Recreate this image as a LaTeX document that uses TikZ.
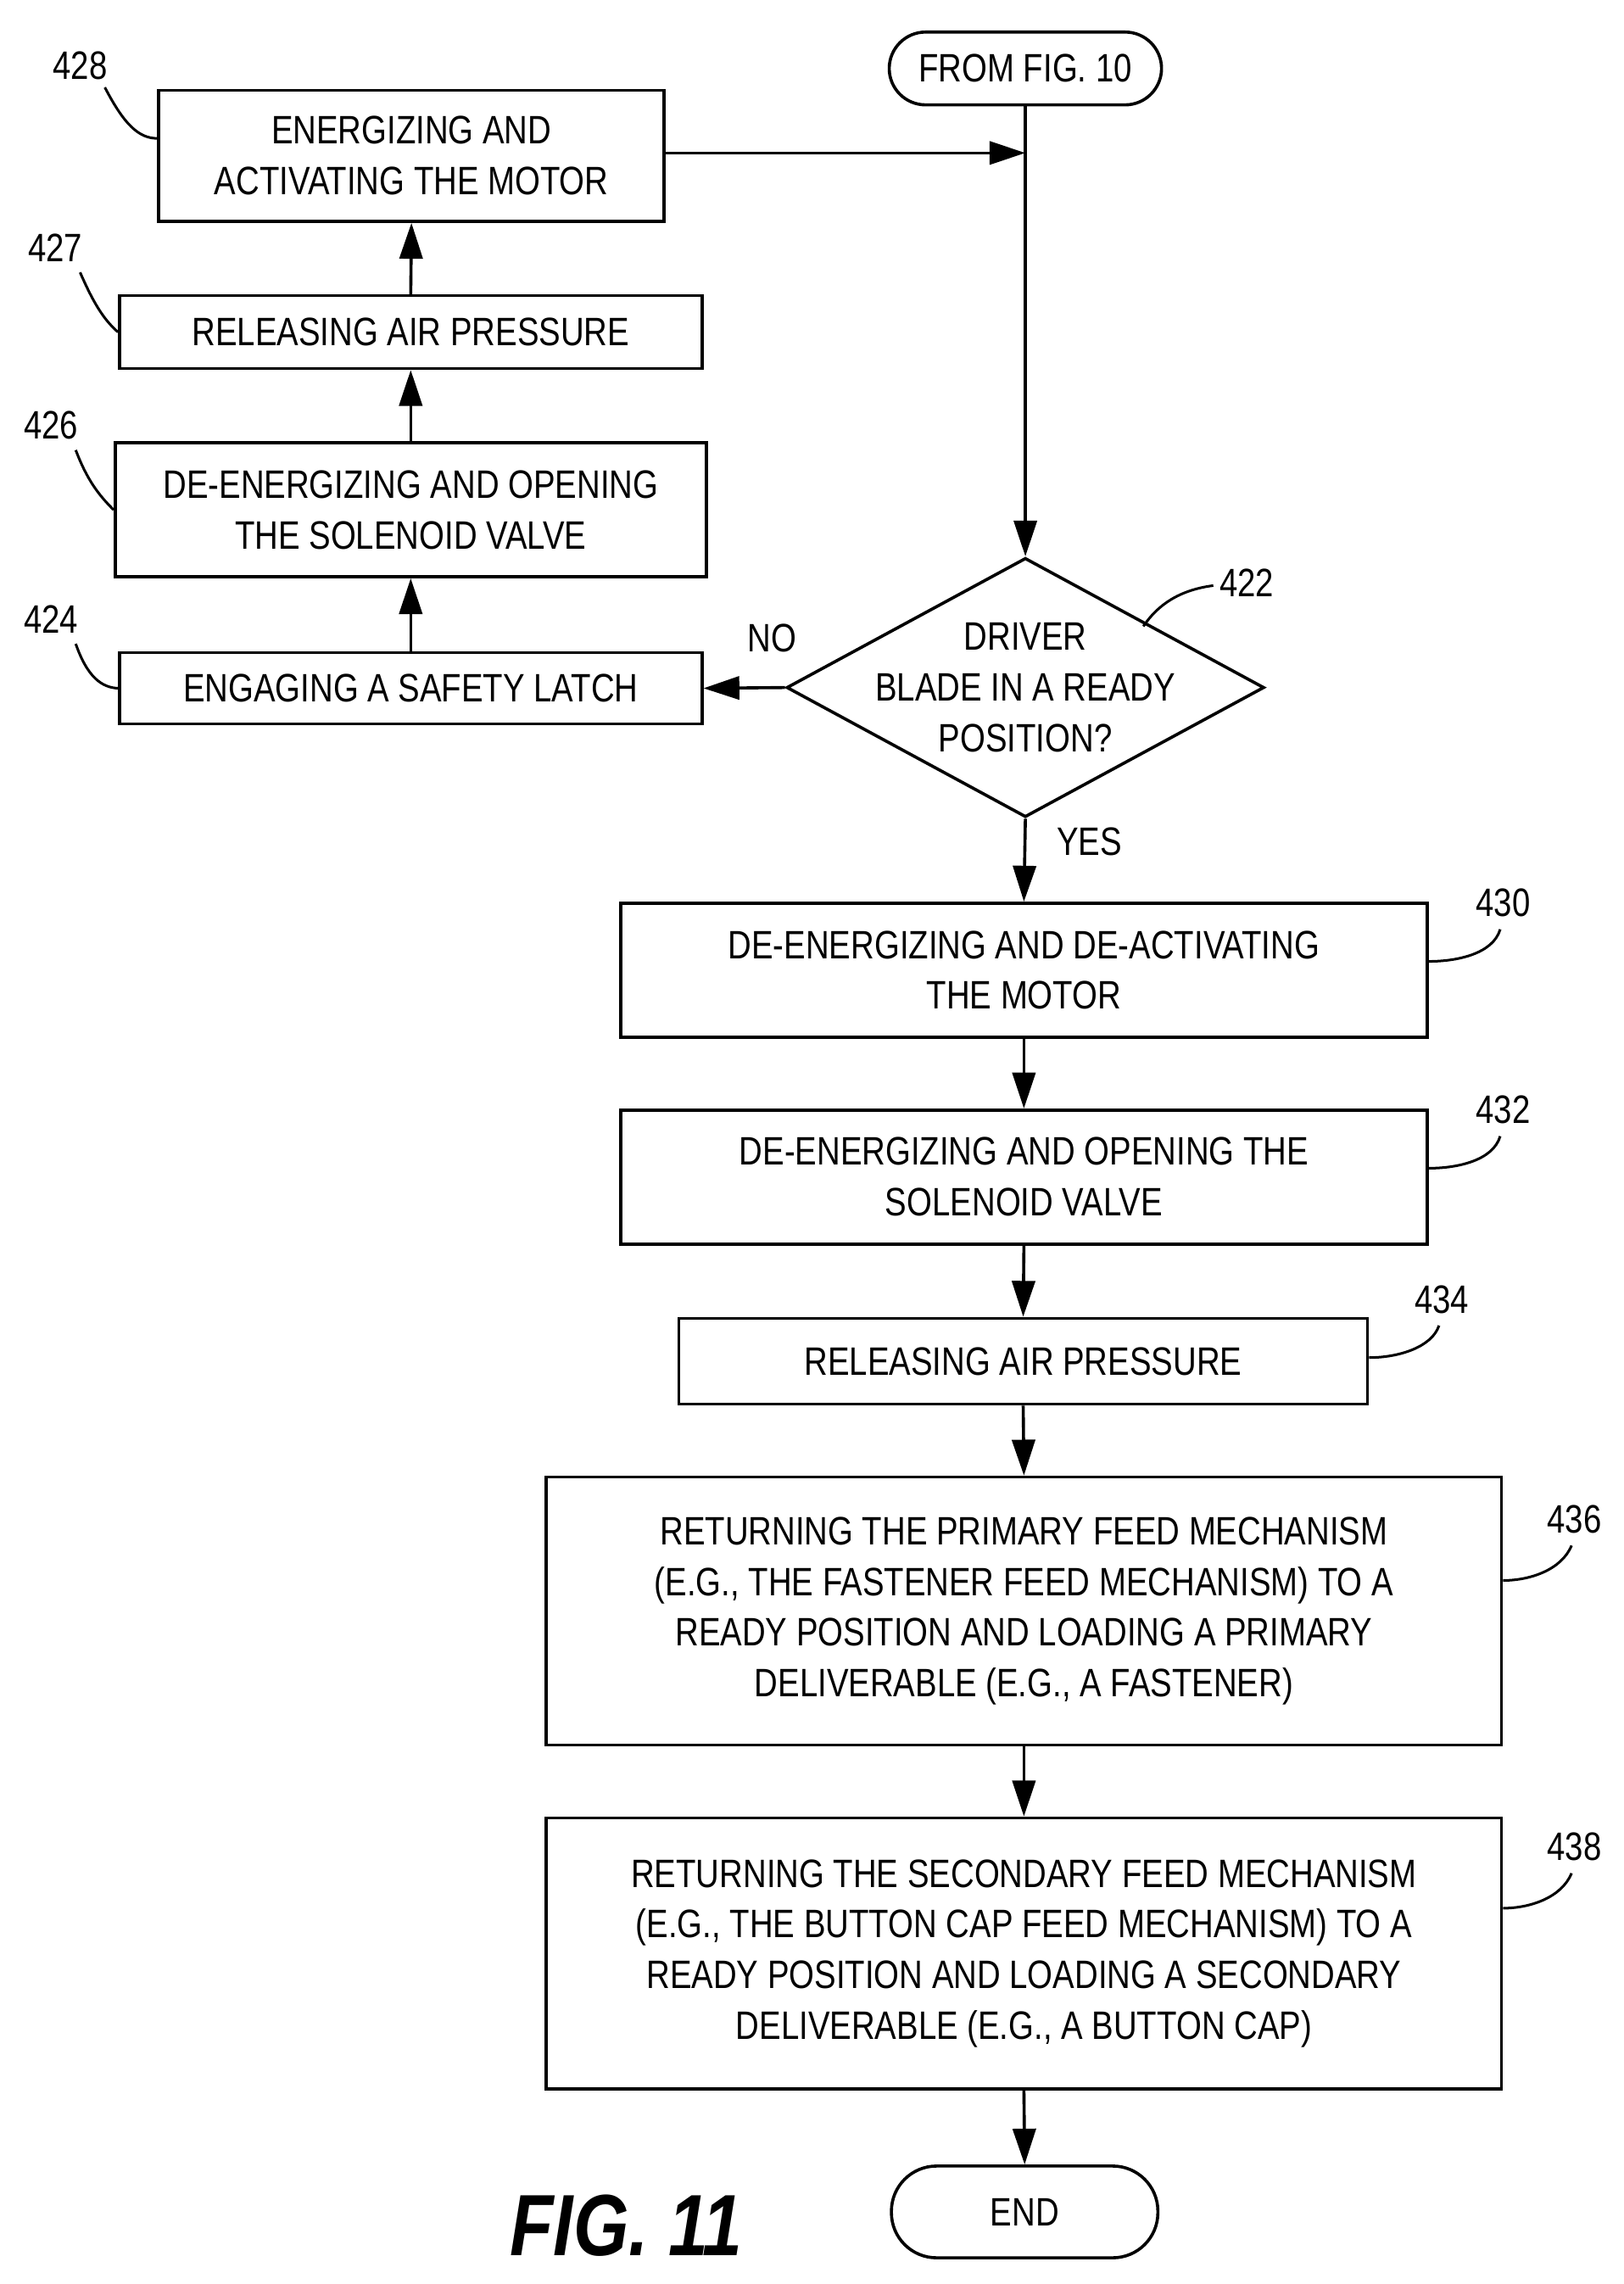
\documentclass[tikz,border=0pt]{standalone}
\usepackage{fontspec}
\setmainfont{Liberation Sans}[FakeStretch=0.82]
\usetikzlibrary{shapes.geometric,arrows.meta}
\begin{document}
\begin{tikzpicture}[x=0.02cm,y=-0.02cm,
  every node/.style={font=\fontsize{15.5}{19.8}\selectfont},
  box/.style={draw,line width=1.2pt,align=center,inner sep=0pt},
  term/.style={draw,line width=1.2pt,rounded corners=0.5cm,align=center,inner sep=0pt},
  arr/.style={line width=1.2pt,-{Triangle[length=14pt,width=9pt]}},
  lead/.style={line width=1pt}]
\useasboundingbox (0,0) rectangle (1115,1568);
\node[box,minimum width=6.94cm,minimum height=1.8cm] (b428) at (282.5,107) {ENERGIZING AND\\ACTIVATING THE MOTOR};
\node[box,minimum width=8cm,minimum height=1cm] (b427) at (282,228) {RELEASING AIR PRESSURE};
\node[box,minimum width=8.12cm,minimum height=1.84cm] (b426) at (282,350) {DE-ENERGIZING AND OPENING\\THE SOLENOID VALVE};
\node[box,minimum width=8cm,minimum height=0.98cm] (b424) at (282,472.5) {ENGAGING A SAFETY LATCH};
\node[term,minimum width=3.74cm,minimum height=1cm] (start) at (704,47) {FROM FIG. 10};
\node[draw,line width=1.2pt,diamond,aspect=1.843,minimum width=6.56cm,minimum height=3.56cm,inner sep=0pt] (d422) at (704,472) {};
\node[align=center] at (704,472) {DRIVER\\BLADE IN A READY\\POSITION?};
\node[box,minimum width=11.08cm,minimum height=1.84cm] (b430) at (703,666) {DE-ENERGIZING AND DE-ACTIVATING\\THE MOTOR};
\node[box,minimum width=11.08cm,minimum height=1.84cm] (b432) at (703,808) {DE-ENERGIZING AND OPENING THE\\SOLENOID VALVE};
\node[box,minimum width=9.46cm,minimum height=1.18cm] (b434) at (702.5,934.5) {RELEASING AIR PRESSURE};
\node[box,minimum width=13.12cm,minimum height=3.68cm] (b436) at (703,1106) {RETURNING THE PRIMARY FEED MECHANISM\\(E.G., THE FASTENER FEED MECHANISM) TO A\\READY POSITION AND LOADING A PRIMARY\\DELIVERABLE (E.G., A FASTENER)};
\node[box,minimum width=13.12cm,minimum height=3.72cm] (b438) at (703,1341) {RETURNING THE SECONDARY FEED MECHANISM\\(E.G., THE BUTTON CAP FEED MECHANISM) TO A\\READY POSITION AND LOADING A SECONDARY\\DELIVERABLE (E.G., A BUTTON CAP)};
\node[term,minimum width=3.66cm,minimum height=1.26cm,rounded corners=0.62cm] (end) at (703.5,1518.5) {END};
\node[font=\fontsize{34}{40}\selectfont\bfseries\itshape] (fig) at (430,1528) {FIG. 11};
% connectors
\coordinate (j) at (704,105);
\draw[arr] (b428.east|-j) -- (j);
\draw[arr] (start.south) -- (d422.north);
\draw[arr] (d422.west) -- (b424.east);
\draw[arr] (b424.north) -- (b426.south);
\draw[arr] (b426.north) -- (b427.south);
\draw[arr] (b427.north) -- (b428.south);
\draw[arr] (d422.south) -- (b430.north);
\draw[arr] (b430.south) -- (b432.north);
\draw[arr] (b432.south) -- (b434.north);
\draw[arr] (b434.south) -- (b436.north);
\draw[arr] (b436.south) -- (b438.north);
\draw[arr] (b438.south) -- (end.north);
\node (no) at (530,438) {NO};
\node (yes) at (748,578) {YES};
% reference labels
\node (l428) at (55,45) {428};
\draw[lead] (72,60) .. controls (85,85) and (95,95) .. (b428.west|-0,95);
\node (l427) at (38,170) {427};
\draw[lead] (55,187) .. controls (65,210) and (72,220) .. (b427.west);
\node (l426) at (35,292) {426};
\draw[lead] (52,309) .. controls (60,330) and (68,340) .. (b426.west);
\node (l424) at (35,425) {424};
\draw[lead] (52,442) .. controls (60,465) and (70,472) .. (b424.west);
\node (l422) at (856,400) {422};
\draw[lead] (833,402) .. controls (810,405) and (795,415) .. (785,430);
\node (l430) at (1032,620) {430};
\draw[lead] (1030,638) .. controls (1025,655) and (1000,660) .. (b430.east|-0,660);
\node (l432) at (1032,762) {432};
\draw[lead] (1030,780) .. controls (1025,797) and (1000,802) .. (b432.east|-0,802);
\node (l434) at (990,892) {434};
\draw[lead] (988,910) .. controls (983,925) and (960,932) .. (b434.east|-0,932);
\node (l436) at (1081,1043) {436};
\draw[lead] (1079,1061) .. controls (1072,1078) and (1050,1085) .. (b436.east|-0,1085);
\node (l438) at (1081,1268) {438};
\draw[lead] (1079,1286) .. controls (1072,1303) and (1050,1310) .. (b438.east|-0,1310);
\end{tikzpicture}
\end{document}
